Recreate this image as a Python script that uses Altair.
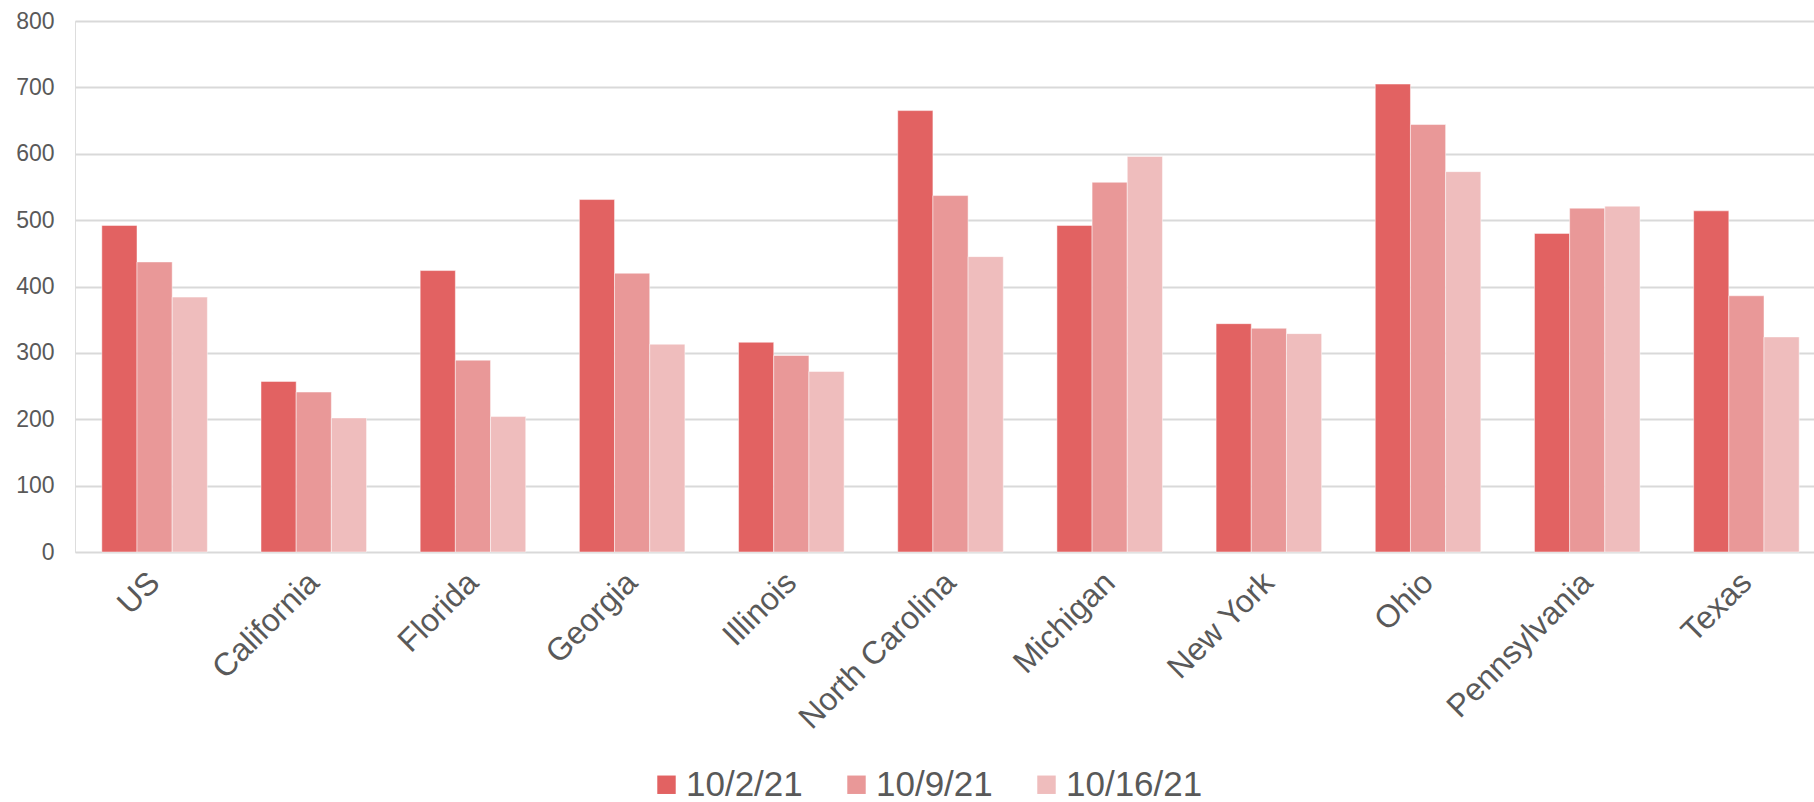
import altair as alt
import pandas as pd

states = ["US", "California", "Florida", "Georgia", "Illinois", "North Carolina",
          "Michigan", "New York", "Ohio", "Pennsylvania", "Texas"]
weeks = ["10/2/21", "10/9/21", "10/16/21"]
v_oct2 = [492, 257, 424, 531, 316, 665, 492, 344, 705, 480, 514]
v_oct9 = [437, 241, 289, 420, 296, 537, 557, 337, 644, 518, 386]
v_oct16 = [384, 202, 204, 313, 272, 445, 596, 329, 573, 521, 324]
colors = ["#E26262", "#E99898", "#EFBDBD"]

rows = []
for w, vals in zip(weeks, [v_oct2, v_oct9, v_oct16]):
    for s, v in zip(states, vals):
        rows.append({"state": s, "week": w, "value": v})
df = pd.DataFrame(rows)

FONT = "Liberation Sans"
TXT = "#595959"

chart = alt.Chart(df).mark_bar(stroke="#ffffff", strokeWidth=0.8, strokeOpacity=0.6).encode(
    x=alt.X("state:N", sort=states, title=None,
            scale=alt.Scale(range=[0, 1751], paddingInner=0.337, paddingOuter=0.1685),
            axis=alt.Axis(labelAngle=-45, labelAlign="right", labelBaseline="middle",
                          labelFontSize=32, labelFont=FONT, labelColor=TXT, labelLimit=500,
                          ticks=False, domain=False, labelPadding=25)),
    xOffset=alt.XOffset("week:N", sort=weeks),
    y=alt.Y("value:Q", title=None,
            scale=alt.Scale(domain=[0, 800]),
            axis=alt.Axis(values=list(range(0, 801, 100)), labelFontSize=23, labelFont=FONT,
                          labelColor=TXT, ticks=False, domain=False, labelPadding=21,
                          gridColor="#D9D9D9", gridWidth=2)),
    color=alt.Color("week:N", sort=weeks,
                    scale=alt.Scale(domain=weeks, range=colors),
                    legend=alt.Legend(title=None, orient="none", direction="horizontal",
                                      legendX=574, legendY=746, padding=0,
                                      symbolType="square", symbolSize=340, symbolStrokeWidth=0,
                                      labelFontSize=35, labelFont=FONT, labelColor=TXT,
                                      labelOffset=2, columnPadding=36)),
).properties(
    width=1739, height=531,
    autosize=alt.AutoSizeParams(type="none"),
    padding={"left": 75, "top": 21, "right": 0, "bottom": 250},
).configure_view(stroke=None).configure(background="#ffffff")

chart.save("out.html", embed_options={"renderer": "svg", "actions": False})
